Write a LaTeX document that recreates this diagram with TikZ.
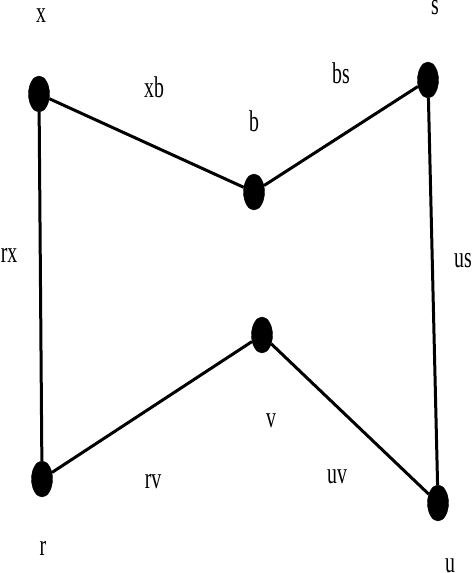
\documentclass[tikz,border=0pt]{standalone}
\usepackage{fontspec}
\setmainfont{Liberation Serif}
\usetikzlibrary{shapes.geometric}
\newcommand{\lbltext}[1]{\scalebox{0.66}[1]{\fontsize{30}{30}\selectfont #1}}
\tikzset{
  dot/.style={ellipse, fill=black, draw=black, minimum width=21pt, minimum height=36pt, inner sep=0pt},
  lbl/.style={inner sep=0pt, text=black},
  edge/.style={line width=3pt, black}
}
\begin{document}
\begin{tikzpicture}[x=1pt,y=-1pt]
\useasboundingbox (0,0) rectangle (474,573);
\node[dot] (x) at (39,94) {};
\node[dot] (b) at (254,192) {};
\node[dot] (s) at (428,80) {};
\node[dot] (r) at (42,479) {};
\node[dot] (v) at (262,335) {};
\node[dot] (u) at (438,503) {};
\draw[edge] (x) -- (b);
\draw[edge] (b) -- (s);
\draw[edge] (s) -- (u);
\draw[edge] (u) -- (v);
\draw[edge] (v) -- (r);
\draw[edge] (r) -- (x);
\node[lbl] (lx) at (41,16) {\lbltext{x}};
\node[lbl] (lxb) at (154,87) {\lbltext{xb}};
\node[lbl] (ls) at (435,8) {\lbltext{s}};
\node[lbl] (lbs) at (341,73) {\lbltext{bs}};
\node[lbl] (lb) at (254,121) {\lbltext{b}};
\node[lbl] (lrx) at (9,255) {\lbltext{rx}};
\node[lbl] (lus) at (463,261) {\lbltext{us}};
\node[lbl] (lv) at (271,421) {\lbltext{v}};
\node[lbl] (lrv) at (153,482) {\lbltext{rv}};
\node[lbl] (luv) at (337,477) {\lbltext{uv}};
\node[lbl] (lr) at (43,548) {\lbltext{r}};
\node[lbl] (lu) at (450,566) {\lbltext{u}};
\end{tikzpicture}
\end{document}
